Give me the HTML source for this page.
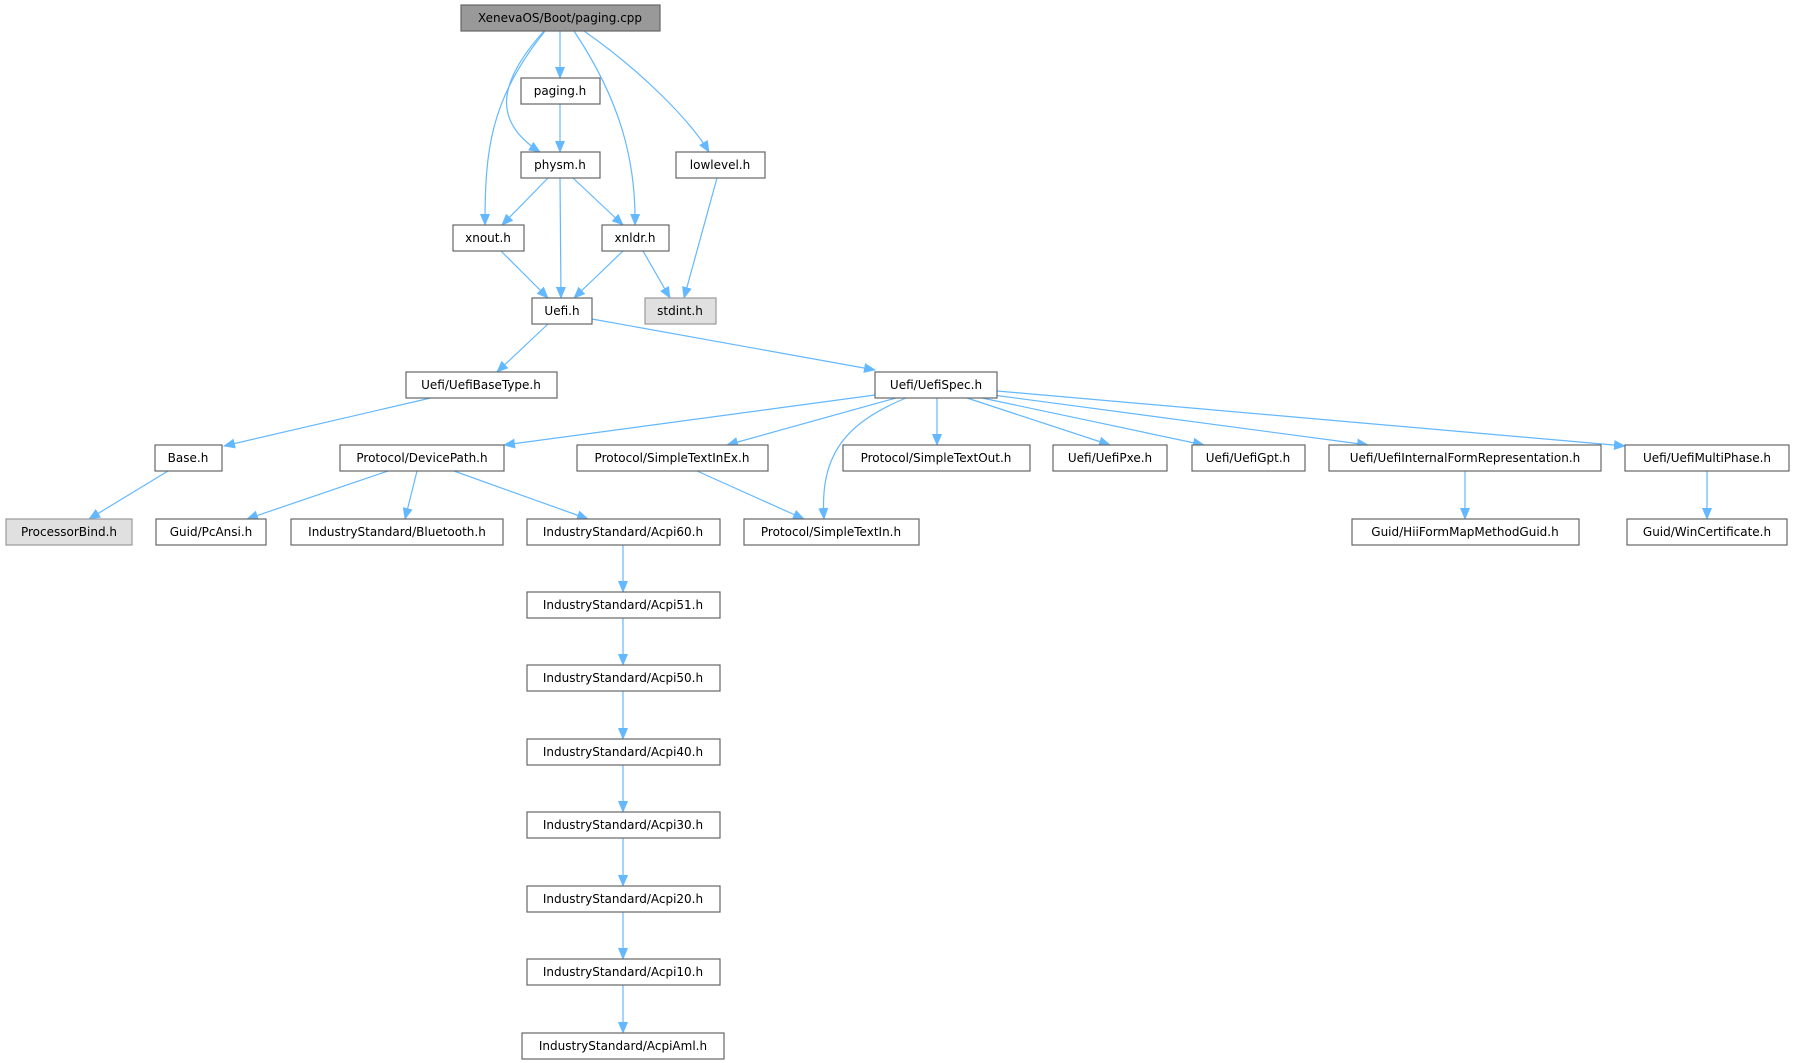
<!DOCTYPE html>
<html><head><meta charset="utf-8"><style>
html,body{margin:0;padding:0;background:#fff;}
svg{display:block;}
text{font-family:"DejaVu Sans","Liberation Sans",sans-serif;font-size:12px;fill:#000;}
</style></head><body>
<svg width="1794" height="1063" viewBox="0 0 1794 1063" xmlns="http://www.w3.org/2000/svg">
<defs>
<marker id="a" markerWidth="12" markerHeight="10" refX="11" refY="5" orient="auto" markerUnits="userSpaceOnUse">
<path d="M0,0 L12,5 L0,10 z" fill="#63b8ff"/>
</marker>
</defs>
<g fill="none" stroke="#63b8ff" stroke-width="1.2" marker-end="url(#a)">
<path d="M560,31 L560,78"/>
<path d="M544,31 C500,80 490,120 540,152"/>
<path d="M545,31 C490,100 485,150 485,225"/>
<path d="M574,31 C620,100 636,160 635,225"/>
<path d="M584,31 C640,70 690,120 709,152"/>
<path d="M560,104 L560,152"/>
<path d="M548,178 L502,225"/>
<path d="M560,178 L561,298"/>
<path d="M573,178 L623,225"/>
<path d="M717,178 L684,298"/>
<path d="M501,251 L548,298"/>
<path d="M623,251 L574,298"/>
<path d="M643,251 L670,298"/>
<path d="M548,324 L497,372"/>
<path d="M592,319 L875,370"/>
<path d="M435,397 L224,446"/>
<path d="M168,471 L89,519"/>
<path d="M875,395 L504,445"/>
<path d="M896,398 L727,445"/>
<path d="M906,398 C840,425 820,460 824,519"/>
<path d="M937,398 L937,445"/>
<path d="M967,398 L1110,445"/>
<path d="M982,398 L1204,445"/>
<path d="M993,395 L1368,445"/>
<path d="M997,391 L1625,446"/>
<path d="M388,471 L247,519"/>
<path d="M417,471 L405,519"/>
<path d="M454,471 L588,519"/>
<path d="M697,471 L804,519"/>
<path d="M1465,471 L1465,519"/>
<path d="M1707,471 L1707,519"/>
<path d="M623,544 L623,592"/>
<path d="M623,618 L623,665"/>
<path d="M623,691 L623,739"/>
<path d="M623,765 L623,812"/>
<path d="M623,838 L623,886"/>
<path d="M623,912 L623,959"/>
<path d="M623,985 L623,1033"/>
</g>
<g stroke="#666" stroke-width="1.2" fill="#fff">
<rect x="461" y="5" width="199" height="26" fill="#999"/>
<rect x="521" y="78" width="79" height="26"/>
<rect x="521" y="152" width="79" height="26"/>
<rect x="676" y="152" width="89" height="26"/>
<rect x="453" y="225" width="71" height="26"/>
<rect x="602" y="225" width="67" height="26"/>
<rect x="532" y="298" width="60" height="26"/>
<rect x="645" y="298" width="71" height="26" fill="#e0e0e0" stroke="#999"/>
<rect x="406" y="372" width="151" height="26"/>
<rect x="875" y="372" width="122" height="26"/>
<rect x="155" y="445" width="67" height="26"/>
<rect x="340" y="445" width="164" height="26"/>
<rect x="577" y="445" width="191" height="26"/>
<rect x="843" y="445" width="187" height="26"/>
<rect x="1053" y="445" width="114" height="26"/>
<rect x="1192" y="445" width="113" height="26"/>
<rect x="1329" y="445" width="272" height="26"/>
<rect x="1625" y="445" width="164" height="26"/>
<rect x="6" y="519" width="126" height="26" fill="#e0e0e0" stroke="#999"/>
<rect x="156" y="519" width="110" height="26"/>
<rect x="291" y="519" width="212" height="26"/>
<rect x="527" y="519" width="193" height="26"/>
<rect x="744" y="519" width="175" height="26"/>
<rect x="1352" y="519" width="227" height="26"/>
<rect x="1627" y="519" width="160" height="26"/>
<rect x="527" y="592" width="193" height="26"/>
<rect x="527" y="665" width="193" height="26"/>
<rect x="527" y="739" width="193" height="26"/>
<rect x="527" y="812" width="193" height="26"/>
<rect x="527" y="886" width="193" height="26"/>
<rect x="527" y="959" width="193" height="26"/>
<rect x="522" y="1033" width="202" height="26"/>
</g>
<g text-anchor="middle">
<text x="560" y="22">XenevaOS/Boot/paging.cpp</text>
<text x="560" y="95">paging.h</text>
<text x="560" y="169">physm.h</text>
<text x="720" y="169">lowlevel.h</text>
<text x="488" y="242">xnout.h</text>
<text x="635" y="242">xnldr.h</text>
<text x="562" y="315">Uefi.h</text>
<text x="680" y="315">stdint.h</text>
<text x="481" y="389">Uefi/UefiBaseType.h</text>
<text x="936" y="389">Uefi/UefiSpec.h</text>
<text x="188" y="462">Base.h</text>
<text x="422" y="462">Protocol/DevicePath.h</text>
<text x="672" y="462">Protocol/SimpleTextInEx.h</text>
<text x="936" y="462">Protocol/SimpleTextOut.h</text>
<text x="1110" y="462">Uefi/UefiPxe.h</text>
<text x="1248" y="462">Uefi/UefiGpt.h</text>
<text x="1465" y="462">Uefi/UefiInternalFormRepresentation.h</text>
<text x="1707" y="462">Uefi/UefiMultiPhase.h</text>
<text x="69" y="536">ProcessorBind.h</text>
<text x="211" y="536">Guid/PcAnsi.h</text>
<text x="397" y="536">IndustryStandard/Bluetooth.h</text>
<text x="623" y="536">IndustryStandard/Acpi60.h</text>
<text x="831" y="536">Protocol/SimpleTextIn.h</text>
<text x="1465" y="536">Guid/HiiFormMapMethodGuid.h</text>
<text x="1707" y="536">Guid/WinCertificate.h</text>
<text x="623" y="609">IndustryStandard/Acpi51.h</text>
<text x="623" y="682">IndustryStandard/Acpi50.h</text>
<text x="623" y="756">IndustryStandard/Acpi40.h</text>
<text x="623" y="829">IndustryStandard/Acpi30.h</text>
<text x="623" y="903">IndustryStandard/Acpi20.h</text>
<text x="623" y="976">IndustryStandard/Acpi10.h</text>
<text x="623" y="1050">IndustryStandard/AcpiAml.h</text>
</g>
</svg>
</body></html>
